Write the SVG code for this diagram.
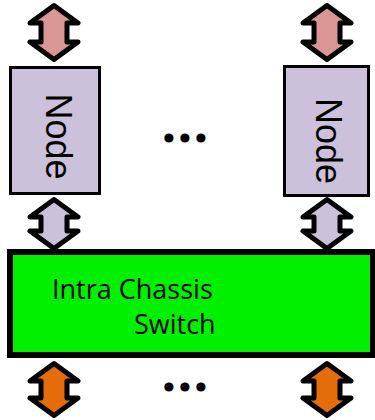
<svg xmlns="http://www.w3.org/2000/svg" width="375" height="420" viewBox="0 0 375 420">
  <style>
    .node { fill: #ccc1da; stroke: #000; stroke-width: 3; }
    .switch { fill: #00f000; stroke: #000; stroke-width: 6; }
    .arrow { stroke: #000; stroke-width: 5; stroke-linejoin: round; }
    .up { fill: #d99694; }
    .mid { fill: #ccc1da; }
    .down { fill: #e46c0a; }
    .label { font-family: "Liberation Sans", Arial, sans-serif; font-size: 36px; fill: #000; }
    .sw { font-family: "Open Sans", "Liberation Sans", sans-serif; font-size: 27px; fill: #000; }
    .dots { font-family: "Open Sans", "Noto Sans", sans-serif; font-weight: bold; font-size: 36px; fill: #000; stroke: #000; stroke-width: 3; stroke-linejoin: round; }
  </style>
  <defs>
    <!-- double-headed vertical arrows, centred on the origin -->
    <path id="arrowL" d="M0,-27 L24,-9.5 L13,-9.5 L13,9.5 L24,9.5 L0,27 L-24,9.5 L-13,9.5 L-13,-9.5 L-24,-9.5 Z"/>
    <path id="arrowS" d="M0,-24.5 L24,-7 L13,-7 L13,7 L24,7 L0,24.5 L-24,7 L-13,7 L-13,-7 L-24,-7 Z"/>
    <path id="arrowB" d="M0,-26 L24,-8.5 L13,-8.5 L13,8.5 L24,8.5 L0,26 L-24,8.5 L-13,8.5 L-13,-8.5 L-24,-8.5 Z"/>
  </defs>

  <g id="switch">
    <rect class="switch" x="10" y="252" width="363" height="103"/>
    <text class="sw" x="52" y="299">Intra Chassis</text>
    <text class="sw" x="134" y="334">Switch</text>
  </g>

  <g id="node-left">
    <rect class="node" x="10.5" y="67.5" width="89" height="126"/>
    <text class="label" transform="translate(46,136.5) rotate(90)" text-anchor="middle">Node</text>
  </g>

  <g id="node-right">
    <rect class="node" x="284.5" y="66.5" width="84" height="129"/>
    <text class="label" transform="translate(316,141) rotate(90)" text-anchor="middle">Node</text>
  </g>

  <g id="ellipsis-top">
    <text class="dots" x="169 185 201" y="140.5" text-anchor="middle">...</text>
  </g>
  <g id="ellipsis-bottom">
    <text class="dots" x="169 185 201" y="390" text-anchor="middle">...</text>
  </g>

  <g id="connectors">
    <use href="#arrowL" class="arrow up" transform="translate(54,32.5)"/>
    <use href="#arrowL" class="arrow up" transform="translate(327,32.5)"/>
    <use href="#arrowS" class="arrow mid" transform="translate(54,224)"/>
    <use href="#arrowS" class="arrow mid" transform="translate(327,224)"/>
    <use href="#arrowB" class="arrow down" transform="translate(54,389.5)"/>
    <use href="#arrowB" class="arrow down" transform="translate(327,389.5)"/>
  </g>
</svg>
